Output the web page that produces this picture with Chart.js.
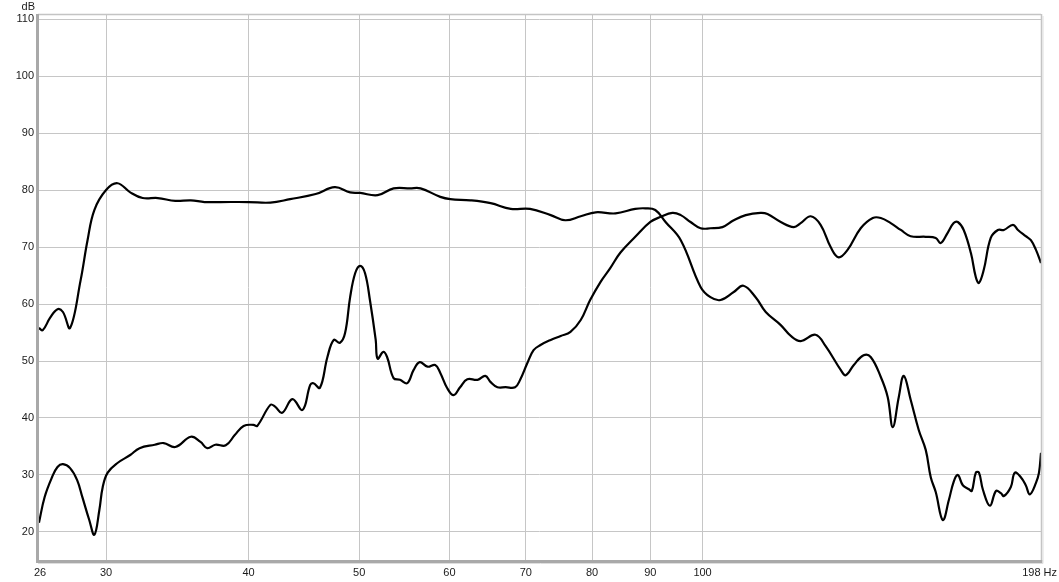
<!DOCTYPE html>
<html>
<head>
<meta charset="utf-8">
<script src="https://cdn.jsdelivr.net/npm/chart.js@4"></script>
<style>
  body { margin: 0; background: #fff; }
  canvas { display: block; }
</style>
</head>
<body>
<canvas id="grafico" width="1059" height="582"></canvas>
<script>
// curva 1: sale alta y cae por encima de ~90 Hz
const freqSub = [26.2, 26.4, 26.8, 27.2, 27.5, 27.9, 28.5, 28.9, 29.3, 30.0, 30.7, 31.5, 32.3, 33.3, 34.5, 35.6, 36.6, 37.8, 40.0, 41.8,
    43.5, 45.8, 47.6, 49.1, 50.1, 51.9, 53.6, 55.4, 56.6, 58.9, 60.1, 62.6, 65.2, 67.9, 70.6, 73.6, 75.8, 78.2, 80.6, 83.9,
    87.3, 89.1, 90.9, 92.8, 95.7, 99.6, 101.6, 103.7, 106.5, 108.6, 111.3, 113.6, 117.1, 119.5, 121.9, 125.6, 128.2, 132.2, 133.5, 135.7,
    138.4, 140.4, 143.3, 145.3, 146.8, 148.6, 150.1, 152.2, 154.7, 156.9, 158.5, 160.1, 162.4, 164.4, 166.0, 167.4, 169.1, 171.2, 172.2, 173.6,
    174.7, 176.1, 178.6, 180.8, 182.6, 183.7, 186.3, 187.8, 190.1, 192.0, 193.6, 196.0, 197.2, 198.0];
const dbSub = [55.8, 55.4, 57.6, 59.1, 58.6, 55.8, 64.2, 71.2, 76.5, 80.0, 81.2, 79.6, 78.6, 78.6, 78.1, 78.2, 77.9, 77.9, 77.9, 77.8,
    78.4, 79.3, 80.5, 79.6, 79.5, 79.1, 80.3, 80.3, 80.3, 78.8, 78.4, 78.2, 77.7, 76.7, 76.7, 75.6, 74.7, 75.4, 76.1, 75.9,
    76.7, 76.8, 76.5, 74.4, 71.2, 63.0, 61.2, 60.7, 62.1, 63.2, 61.2, 58.6, 56.3, 54.4, 53.5, 54.6, 52.6, 48.4, 47.5, 49.3,
    51.0, 50.7, 47.2, 43.7, 38.4, 43.7, 47.4, 43.2, 37.9, 34.4, 29.6, 27.0, 22.1, 25.6, 28.8, 30.0, 28.2, 27.5, 27.2, 30.4,
    30.4, 27.4, 24.6, 27.2, 26.8, 26.3, 27.9, 30.4, 29.6, 28.2, 26.6, 28.6, 30.4, 33.9];

// curva 2: sale baja y sube hasta ~75 dB
const freqMain = [26.2, 26.5, 26.9, 27.2, 27.5, 27.9, 28.3, 28.6, 29.0, 29.3, 29.6, 29.8, 30.1, 30.7, 31.5, 32.1, 33.1, 33.7, 34.5, 35.6,
    36.3, 36.8, 37.4, 38.2, 38.9, 39.6, 40.4, 40.7, 41.8, 42.2, 42.8, 43.7, 44.6, 45.3, 45.6, 46.2, 46.9, 47.5, 48.1, 48.6,
    49.1, 49.6, 50.1, 50.6, 51.1, 51.7, 51.9, 52.5, 52.9, 53.6, 54.3, 55.1, 55.8, 56.5, 57.4, 58.3, 58.9, 59.7, 60.5, 61.3,
    62.2, 63.5, 64.5, 65.2, 66.1, 67.2, 68.5, 69.2, 70.2, 71.1, 72.1, 73.6, 75.1, 76.6, 78.2, 79.7, 81.4, 83.0, 84.7, 87.3,
    90.0, 91.9, 94.1, 95.7, 97.6, 99.6, 101.6, 104.1, 106.5, 109.1, 112.4, 114.0, 117.1, 120.2, 121.9, 124.4, 126.9, 129.5, 131.6, 134.0,
    137.6, 141.0, 143.3, 146.2, 149.2, 152.2, 156.9, 160.1, 161.7, 164.0, 166.0, 167.4, 169.4, 171.9, 173.6, 174.7, 176.4, 178.9, 181.5, 183.7,
    187.1, 189.0, 192.0, 194.0, 196.0, 198.0];
const dbMain = [21.6, 26.1, 29.6, 31.4, 31.9, 31.2, 29.1, 26.1, 22.1, 19.5, 23.9, 27.9, 30.4, 32.1, 33.5, 34.7, 35.3, 35.6, 34.9, 36.7,
    35.8, 34.7, 35.3, 35.2, 37.0, 38.6, 38.8, 38.6, 42.3, 42.0, 40.9, 43.3, 41.4, 45.8, 46.1, 45.3, 50.7, 53.7, 53.2, 54.9,
    61.2, 65.4, 66.7, 65.4, 60.7, 53.7, 50.4, 51.6, 50.7, 47.0, 46.7, 46.1, 48.4, 49.8, 49.0, 49.3, 47.9, 45.3, 44.0, 45.4,
    46.8, 46.7, 47.4, 46.3, 45.4, 45.4, 45.4, 46.7, 49.6, 51.9, 52.8, 53.7, 54.4, 55.1, 57.2, 60.7, 63.9, 66.3, 69.0, 71.8,
    74.4, 75.3, 76.0, 75.6, 74.4, 73.3, 73.3, 73.5, 74.7, 75.6, 76.0, 75.8, 74.4, 73.5, 74.2, 75.4, 73.9, 70.0, 68.2, 69.5,
    73.3, 75.1, 75.1, 74.2, 73.0, 71.9, 71.8, 71.6, 70.7, 72.5, 74.2, 74.4, 73.0, 68.9, 64.7, 63.7, 66.0, 71.6, 73.0, 73.0,
    73.9, 73.0, 71.9, 71.2, 69.5, 67.2];

const dbTicks = [20, 30, 40, 50, 60, 70, 80, 90, 100, 110];
const hzTicks = [26, 30, 40, 50, 60, 70, 80, 90, 100, 198];
const hzGrid = [30, 40, 50, 60, 70, 80, 90, 100];

const fuente = '11px "Liberation Sans", Arial, sans-serif';

// marco gris y textos del eje x
const marcoPlugin = {
    id: "marco",
    afterDraw(chart) {
        const ctx = chart.ctx;
        const a = chart.chartArea;
        const xs = chart.scales.x;
        ctx.save();
        ctx.strokeStyle = "#c4c4c4";
        ctx.lineWidth = 1.5;
        ctx.beginPath();
        ctx.moveTo(a.left, a.top + 0.5);
        ctx.lineTo(a.right, a.top + 0.5);
        ctx.moveTo(a.right + 0.5, a.top);
        ctx.lineTo(a.right + 0.5, a.bottom);
        ctx.stroke();
        ctx.strokeStyle = "#a9a9a9";
        ctx.lineWidth = 3;
        ctx.beginPath();
        ctx.moveTo(a.left - 0.5, a.top);
        ctx.lineTo(a.left - 0.5, a.bottom + 2);
        ctx.moveTo(a.left - 2, a.bottom + 0.5);
        ctx.lineTo(a.right + 1.5, a.bottom + 0.5);
        ctx.stroke();
        ctx.strokeStyle = "#dedede";
        ctx.lineWidth = 1;
        ctx.beginPath();
        ctx.moveTo(a.left, a.bottom + 2.5);
        ctx.lineTo(a.right + 2, a.bottom + 2.5);
        ctx.moveTo(a.right + 2, a.top + 2);
        ctx.lineTo(a.right + 2, a.bottom + 2.5);
        ctx.stroke();

        ctx.fillStyle = "#1a1a1a";
        ctx.font = fuente;
        ctx.textBaseline = "middle";
        hzTicks.forEach((hz, i) => {
            if (i === hzTicks.length - 1) {
                ctx.textAlign = "right";
                ctx.fillText(hz + " Hz", 1057, 573);
                return;
            }
            const px = Math.max(xs.getPixelForValue(hz), a.left + 2);
            ctx.textAlign = "center";
            ctx.fillText(String(hz), px, 573);
        });
        ctx.textAlign = "right";
        ctx.fillText("dB", 35, 7);
        ctx.restore();
    }
};

const puntos = (fs, ds) => fs.map((f, i) => ({ x: f, y: ds[i] }));

new Chart(document.getElementById("grafico").getContext("2d"), {
    type: "line",
    data: {
        datasets: [
            { data: puntos(freqSub, dbSub), borderColor: "#000", borderWidth: 2.2, pointRadius: 0, tension: 0.4, fill: false },
            { data: puntos(freqMain, dbMain), borderColor: "#000", borderWidth: 2.2, pointRadius: 0, tension: 0.4, fill: false }
        ]
    },
    options: {
        responsive: false,
        animation: false,
        layout: { padding: { top: 14, right: 18, left: 0, bottom: 0 } },
        plugins: { legend: { display: false }, tooltip: { enabled: false } },
        scales: {
            x: {
                type: "logarithmic",
                min: 26.15,
                max: 198,
                afterBuildTicks: s => { s.ticks = hzGrid.map(v => ({ value: v })); },
                afterFit: s => { s.height = 21; },
                ticks: { display: false },
                grid: { color: "#c6c6c6", lineWidth: 1, drawTicks: false },
                border: { display: false }
            },
            y: {
                min: 14.9,
                max: 110.9,
                afterBuildTicks: s => { s.ticks = dbTicks.map(v => ({ value: v })); },
                afterFit: s => { s.width = 38; },
                ticks: { color: "#1a1a1a", font: { family: '"Liberation Sans", Arial, sans-serif', size: 11 }, padding: 4 },
                grid: { color: "#c6c6c6", lineWidth: 1, drawTicks: false },
                border: { display: false }
            }
        }
    },
    plugins: [marcoPlugin]
});
</script>
</body>
</html>
